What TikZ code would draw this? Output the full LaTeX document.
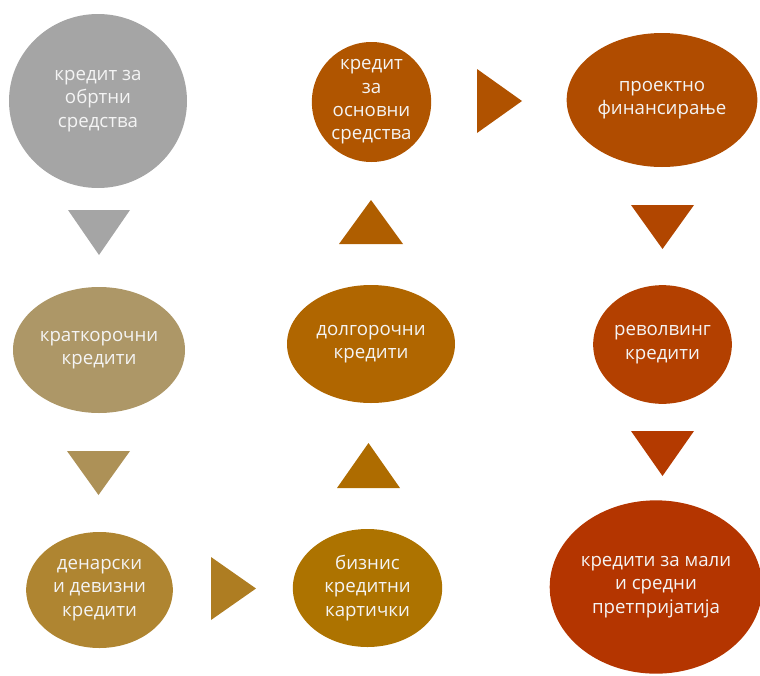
\documentclass[tikz,border=0pt]{standalone}
\usepackage{fontspec}
\setmainfont{Open Sans}
\usetikzlibrary{shapes.geometric}

% fills, from grey through ochre to rust
\definecolor{cgrey}{HTML}{A5A5A5}
\definecolor{ctan}{HTML}{AD9767}
\definecolor{ctantri}{HTML}{AD9157}
\definecolor{cochre}{HTML}{AF8531}
\definecolor{cochretri}{HTML}{AE7D22}
\definecolor{cgold}{HTML}{AD7300}
\definecolor{cgoldtri}{HTML}{AE6C00}
\definecolor{camber}{HTML}{B06600}
\definecolor{cambertri}{HTML}{AF5E00}
\definecolor{cbrown}{HTML}{B05500}
\definecolor{cbrowntri}{HTML}{B05200}
\definecolor{crust}{HTML}{B04C00}
\definecolor{crusttri}{HTML}{B14600}
\definecolor{cred}{HTML}{B34000}
\definecolor{credtri}{HTML}{B43A00}
\definecolor{cdeep}{HTML}{B43500}
\definecolor{ctext}{HTML}{F4F4F4}

\tikzset{
  bubble/.style={ellipse, inner sep=0pt, align=center, text=ctext,
    font=\fontsize{14}{17.5}\selectfont}
}

\begin{document}
\begin{tikzpicture}[x=0.75pt, y=-0.75pt]
    \useasboundingbox (0,0) rectangle (760,675);

    % left column
    \node[bubble, fill=cgrey, minimum width=133.5pt, minimum height=130.5pt] (obrtni) at (98,101) {кредит за\\обртни\\средства};
    \fill[cgrey] (68,210) -- (130,210) -- (99,255) -- cycle;

    \node[bubble, fill=ctan, minimum width=129pt, minimum height=94.5pt] (kratko) at (99,350) {краткорочни\\кредити};
    \fill[ctantri] (67,451) -- (130,451) -- (98.5,495) -- cycle;

    \node[bubble, fill=cochre, minimum width=110pt, minimum height=87pt] (denarski) at (99.5,590) {денарски\\и девизни\\кредити};
    \fill[cochretri] (211,557) -- (256,588.5) -- (211,620) -- cycle;

    % middle column, going up
    \node[bubble, fill=cgold, minimum width=112pt, minimum height=88.5pt] (biznis) at (367.5,588) {бизнис\\кредитни\\картички};
    \fill[cgoldtri] (337,488) -- (400,488) -- (368.5,443) -- cycle;

    \node[bubble, fill=camber, minimum width=126pt, minimum height=88.5pt] (dolgo) at (371,344) {долгорочни\\кредити};
    \fill[cambertri] (339,244) -- (403,244) -- (371,200) -- cycle;

    \node[bubble, fill=cbrown, minimum width=89.5pt, minimum height=90pt] (osnovni) at (371.5,102) {кредит\\за\\основни\\средства};
    \fill[cbrowntri] (477,69) -- (522,101) -- (477,133) -- cycle;

    % right column, going down
    \node[bubble, fill=crust, minimum width=143pt, minimum height=100.5pt] (proektno) at (662,100) {проектно\\финансирање};
    \fill[crusttri] (631,205) -- (694,205) -- (662.5,249) -- cycle;

    \node[bubble, fill=cred, minimum width=104pt, minimum height=89pt] (revolving) at (662.5,344.5) {револвинг\\кредити};
    \fill[credtri] (631,431) -- (694,431) -- (662.5,476) -- cycle;

    \node[bubble, fill=cdeep, minimum width=153pt, minimum height=130pt] (mali) at (656,587) {кредити за мали\\и средни\\претпријатија};

\end{tikzpicture}
\end{document}
